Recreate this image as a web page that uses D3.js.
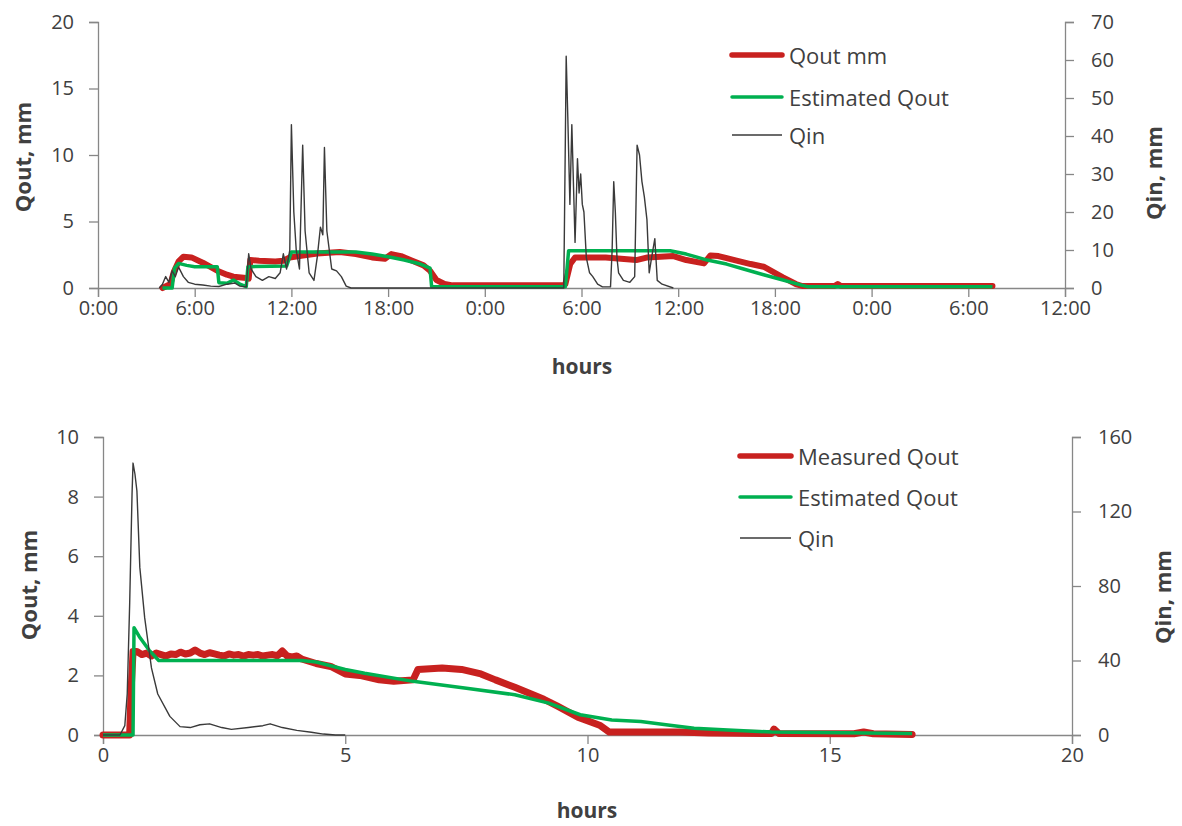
<!DOCTYPE html>
<html>
<head>
<meta charset="utf-8">
<script src="https://cdn.jsdelivr.net/npm/d3@7"></script>
<style>
  html, body { margin: 0; padding: 0; background: #fff; }
  svg text { font-family: "Open Sans", "Liberation Sans", sans-serif; fill: #404040; }
</style>
</head>
<body>
<svg id="chart" width="1182" height="826"></svg>
<script>
// ---------------- DATA ----------------
// Top chart (x = hours since start, shown as clock labels)
const topXTicks = [0, 6, 12, 18, 24, 30, 36, 42, 48, 54, 60];
const topXLabels = ["0:00", "6:00", "12:00", "18:00", "0:00", "6:00", "12:00", "18:00", "0:00", "6:00", "12:00"];
const topLeftTicks = [0, 5, 10, 15, 20];
const topRightTicks = [0, 10, 20, 30, 40, 50, 60, 70];

const topQoutMeasured = [
  [4.0,0],[4.5,0.3],[4.7,1.2],[5.0,2.0],[5.3,2.35],[5.8,2.3],[6.5,1.9],[7.4,1.3],[8.0,1.0],[8.4,0.85],[9.2,0.75],[9.35,0.7],
  [9.45,2.1],[10,2.05],[11,2.0],[11.5,2.05],[11.9,2.3],[12.5,2.4],[13.6,2.6],[15,2.7],[16,2.55],[17,2.3],[17.8,2.2],
  [18.2,2.55],[18.8,2.4],[19.5,2.05],[20.2,1.7],[20.6,1.3],[21.0,0.6],[21.5,0.3],[22,0.2],[28.9,0.2],
  [29.0,0.3],[29.3,1.8],[29.6,2.3],[31.5,2.3],[33.4,2.1],[34.1,2.3],[35.7,2.4],[36.5,2.1],[37.6,1.85],
  [38.0,2.45],[38.5,2.4],[39.5,2.1],[40.5,1.8],[41.3,1.6],[42.5,0.8],[43.3,0.3],[43.7,0.15],
  [45.7,0.15],[45.9,0.3],[46.1,0.15],[55.5,0.15]
];
const topQoutEstimated = [
  [4.0,0],[4.6,0],[4.75,1.5],[5.0,1.85],[5.5,1.7],[6,1.6],[7.4,1.6],[7.5,0.4],[8.0,0.35],[8.4,0.6],[8.8,0.3],[9.2,0.1],
  [9.3,1.6],[11.7,1.65],[12.0,2.7],[16,2.7],[17,2.55],[18,2.35],[19,2.1],[20,1.8],[20.6,1.5],[20.7,0.1],
  [29.0,0.1],[29.2,2.8],[35.5,2.8],[36.5,2.55],[37.8,2.1],[39,1.8],[40,1.45],[41.3,1.0],[42.5,0.6],[43.7,0.2],[44,0.1],[55.5,0.1]
];
const topQin = [
  [3.8,0],[4.0,1],[4.2,3],[4.4,1.5],[4.6,4.5],[4.8,3],[5.0,5.5],[5.3,3],[5.6,1.5],[6.0,1],[6.5,0.8],[7.0,0.5],[7.5,0.4],
  [8.0,1.0],[8.5,1.3],[8.8,0.5],[9.2,0.3],[9.35,9],[9.5,5],[9.8,3],[10.2,2],[10.6,3],[11.0,2.5],[11.3,4],[11.5,9],
  [11.7,5],[11.9,10],[12.0,43],[12.15,20],[12.3,10],[12.5,5],[12.7,37.6],[12.85,15],[13.1,4],[13.4,2],[13.6,8],
  [13.8,16],[13.95,14],[14.05,37],[14.2,15],[14.5,5],[14.8,4.5],[15.1,3],[15.4,0.5],[15.7,0],
  [28.9,0],[28.95,20],[29.0,40],[29.05,61],[29.15,45],[29.28,22],[29.4,43],[29.6,12],[29.75,34],[29.85,25],
  [29.95,30],[30.05,22],[30.15,20],[30.3,8],[30.5,4],[30.7,3],[31.0,1],[31.3,0.3],[31.8,0.3],[31.9,10],[32.0,28],
  [32.1,20],[32.2,8],[32.3,4],[32.6,2],[33.0,1.5],[33.3,3],[33.45,37.6],[33.6,35],[33.75,28],[33.9,24],[34.06,18],
  [34.2,4],[34.35,8],[34.55,13],[34.7,2],[35.0,1],[35.7,0]
];

// Bottom chart (x = hours)
const botXTicks = [0, 5, 10, 15, 20];
const botLeftTicks = [0, 2, 4, 6, 8, 10];
const botRightTicks = [0, 40, 80, 120, 160];

const botQoutMeasured = [
  [0,0],[0.55,0],[0.58,1.5],[0.62,2.8],[0.7,2.8],[0.8,2.7],[0.9,2.75],[1.0,2.65],[1.1,2.75],[1.2,2.7],[1.3,2.65],
  [1.4,2.72],[1.5,2.7],[1.6,2.78],[1.7,2.72],[1.8,2.75],[1.9,2.85],[2.0,2.75],[2.1,2.7],[2.2,2.76],[2.3,2.72],
  [2.4,2.68],[2.5,2.65],[2.6,2.72],[2.7,2.68],[2.8,2.7],[2.9,2.65],[3.0,2.7],[3.1,2.68],[3.2,2.7],[3.3,2.65],
  [3.4,2.68],[3.5,2.7],[3.6,2.66],[3.7,2.82],[3.8,2.65],[3.9,2.62],[4.0,2.65],[4.1,2.55],[4.4,2.4],[4.7,2.3],
  [5.0,2.05],[5.3,2.0],[5.7,1.85],[6.0,1.8],[6.4,1.85],[6.5,2.2],[7.0,2.25],[7.4,2.2],[7.8,2.05],[8.1,1.85],
  [8.5,1.6],[8.8,1.4],[9.1,1.2],[9.4,0.95],[9.8,0.6],[10.25,0.33],[10.45,0.1],[11.9,0.1],[12.5,0.07],[13.8,0.05],
  [13.85,0.2],[13.95,0.05],[15.5,0.04],[15.7,0.1],[15.9,0.04],[16.7,0.02]
];
const botQoutEstimated = [
  [0,0],[0.62,0],[0.64,3.6],[0.75,3.3],[0.95,2.85],[1.15,2.5],[4.1,2.5],[4.4,2.45],[5.0,2.2],[5.4,2.07],
  [6.4,1.8],[7.5,1.57],[8.5,1.35],[9.2,1.07],[9.85,0.68],[10.5,0.5],[11.1,0.45],[11.7,0.33],[12.2,0.23],
  [12.9,0.17],[13.8,0.1],[16.7,0.05]
];
const botQin = [
  [0,0],[0.35,0],[0.45,5],[0.5,22],[0.55,70],[0.6,130],[0.62,146],[0.66,140],[0.7,131],[0.76,90],[0.86,63],
  [1.0,36],[1.13,22],[1.38,10],[1.59,4.5],[1.8,4],[2.0,5.5],[2.2,6],[2.45,4],[2.65,3],[3.0,4],[3.3,5],[3.45,6],
  [3.7,4],[4.0,2.5],[4.3,1.5],[4.55,0.5],[4.8,0],[5.0,0]
];

// ---------------- DRAWING ----------------
const svg = d3.select("#chart");
const AXIS = "#878787";
const RED = "#c8211f", GREEN = "#00b050", QIN = "#3a3a3a";

function panel(cfg) {
  const g = svg.append("g");
  const x = d3.scaleLinear().domain(cfg.xDomain).range([cfg.left, cfg.right]);
  const yL = d3.scaleLinear().domain(cfg.yLDomain).range([cfg.bottom, cfg.top]);
  const yR = d3.scaleLinear().domain(cfg.yRDomain).range([cfg.bottom, cfg.top]);

  const xAxis = d3.axisBottom(x).tickValues(cfg.xTicks).tickSize(9).tickPadding(4)
    .tickFormat((d, i) => cfg.xLabels ? cfg.xLabels[i] : d);
  const yAxisL = d3.axisLeft(yL).tickValues(cfg.yLTicks).tickSize(9).tickPadding(15);
  const yAxisR = d3.axisRight(yR).tickValues(cfg.yRTicks).tickSize(9).tickPadding(17);

  const styleAxis = sel => {
    sel.select(".domain").attr("stroke", AXIS).attr("stroke-width", 1.3);
    sel.selectAll(".tick line").attr("stroke", AXIS).attr("stroke-width", 1.3);
    sel.selectAll(".tick text").attr("fill", "#404040").style("font-size", "20px")
      .style("font-family", '"Open Sans", sans-serif');
  };
  g.append("g").attr("transform", `translate(0,${cfg.bottom})`).call(xAxis).call(styleAxis);
  g.append("g").attr("transform", `translate(${cfg.left},0)`).call(yAxisL).call(styleAxis);
  g.append("g").attr("transform", `translate(${cfg.right},0)`).call(yAxisR).call(styleAxis);

  const lineL = d3.line().x(d => x(d[0])).y(d => yL(d[1]));
  const lineR = d3.line().x(d => x(d[0])).y(d => yR(d[1]));

  g.append("path").datum(cfg.measured).attr("d", lineL).attr("fill", "none")
    .attr("stroke", RED).attr("stroke-width", cfg.redW).attr("stroke-linejoin", "round").attr("stroke-linecap", "round");
  g.append("path").datum(cfg.estimated).attr("d", lineL).attr("fill", "none")
    .attr("stroke", GREEN).attr("stroke-width", 3.5).attr("stroke-linejoin", "round");
  g.append("path").datum(cfg.qin).attr("d", lineR).attr("fill", "none")
    .attr("stroke", QIN).attr("stroke-width", 1.4).attr("stroke-linejoin", "round");

  // axis titles
  g.append("text").attr("transform", `translate(${cfg.lTitleX},${cfg.lTitleY}) rotate(-90)`)
    .attr("text-anchor", "middle").attr("dominant-baseline", "central")
    .style("font-size", "22px").style("font-weight", "bold").text("Qout, mm");
  g.append("text").attr("transform", `translate(${cfg.rTitleX},${cfg.rTitleY}) rotate(-90)`)
    .attr("text-anchor", "middle").attr("dominant-baseline", "central")
    .style("font-size", "22px").style("font-weight", "bold").text("Qin, mm");
  g.append("text").attr("x", cfg.hoursX).attr("y", cfg.hoursY)
    .attr("text-anchor", "middle").attr("dominant-baseline", "central")
    .style("font-size", "21px").style("font-weight", "bold").text("hours");

  // legend
  const leg = [
    {label: cfg.measLabel, color: RED, w: 5.5},
    {label: "Estimated Qout", color: GREEN, w: 3.5},
    {label: "Qin", color: QIN, w: 1.4}
  ];
  leg.forEach((d, i) => {
    const yy = cfg.legY[i];
    g.append("line").attr("x1", cfg.legX1).attr("x2", cfg.legX2).attr("y1", yy).attr("y2", yy)
      .attr("stroke", d.color).attr("stroke-width", d.w).attr("stroke-linecap", d.w > 2 ? "round" : "butt");
    g.append("text").attr("x", cfg.legX2 + 7).attr("y", yy).attr("dominant-baseline", "central")
      .style("font-size", "22px").text(d.label);
  });
}

panel({
  left: 98, right: 1065, top: 22, bottom: 288,
  xDomain: [0, 60], yLDomain: [0, 20], yRDomain: [0, 70],
  xTicks: topXTicks, xLabels: topXLabels, yLTicks: topLeftTicks, yRTicks: topRightTicks,
  measured: topQoutMeasured, estimated: topQoutEstimated, qin: topQin, redW: 6,
  lTitleX: 22, lTitleY: 157, rTitleX: 1153, rTitleY: 173, hoursX: 582, hoursY: 366,
  measLabel: "Qout mm", legX1: 732, legX2: 782, legY: [55, 97, 135]
});

panel({
  left: 103, right: 1072, top: 437, bottom: 735,
  xDomain: [0, 20], yLDomain: [0, 10], yRDomain: [0, 160],
  xTicks: botXTicks, xLabels: null, yLTicks: botLeftTicks, yRTicks: botRightTicks,
  measured: botQoutMeasured, estimated: botQoutEstimated, qin: botQin, redW: 7,
  lTitleX: 28, lTitleY: 585, rTitleX: 1162, rTitleY: 597, hoursX: 587, hoursY: 810,
  measLabel: "Measured Qout", legX1: 740, legX2: 791, legY: [456, 497, 538]
});
</script>
</body>
</html>
